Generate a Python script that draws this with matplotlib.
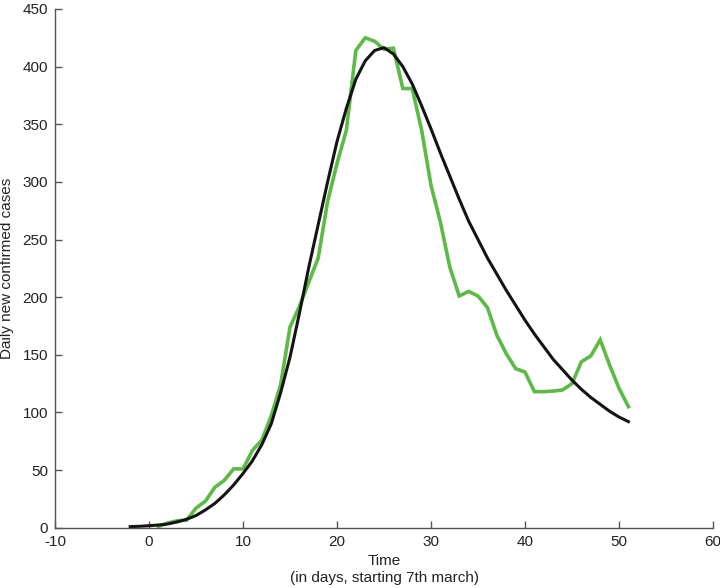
import numpy as np
import matplotlib.pyplot as plt

plt.rcParams['font.family'] = ['Liberation Sans', 'DejaVu Sans']
plt.rcParams['axes.unicode_minus'] = False

# daily new confirmed cases (green)
days = list(range(1, 52))
cases = [1, 4, 6, 6.5, 17, 23, 35, 41, 51, 51,
         67, 76, 97, 124, 174, 192, 213, 234, 283, 316,
         345, 414, 425, 422, 415, 416, 381, 381, 345, 297,
         265, 226, 201, 205, 201, 191, 167, 151, 138, 135,
         118, 118, 118.5, 119.5, 125, 144, 149, 163, 141, 121,
         105]

# fitted curve (black)
fit_days = list(range(-2, 52))
fit_vals = [0.9, 1.2, 1.7, 2.3, 3.2, 5, 7.3, 10.5, 15.4, 21,
            28.4, 37, 47, 58, 72, 90, 117, 148, 186, 226,
            263, 300, 335, 364, 389, 405, 414, 416.5, 411, 400,
            385, 366, 346, 325, 305, 285, 266, 250, 234, 220,
            206, 193, 180, 168, 157, 146, 137, 128, 120, 113,
            107, 101, 96, 92]

fig = plt.figure(figsize=(7.2, 5.88), dpi=100)
ax = fig.add_axes([0.0764, 0.1026, 0.9139, 0.8821])

ax.plot(days, cases, color='#5cbb46', lw=2.6, solid_joinstyle='miter')
ax.plot(fit_days, fit_vals, color='#141414', lw=2.2)

ax.set_xlim(-10, 60)
ax.set_ylim(0, 450)
ax.set_xticks(range(-10, 61, 10))
ax.set_yticks(range(0, 451, 50))

for s in ['top', 'right']:
    ax.spines[s].set_visible(False)
for s in ['left', 'bottom']:
    ax.spines[s].set_color('#555555')
    ax.spines[s].set_linewidth(1.0)
ax.tick_params(direction='in', length=5, width=1, color='#555555',
               labelsize=11, labelcolor='#222222', pad=5)

ax.set_xlabel('Time\n(in days, starting 7th march)', fontsize=11, color='#222222',
              labelpad=4, linespacing=1.3)
ax.set_ylabel('Daily new confirmed cases', fontsize=11, color='#222222', labelpad=6)

fig.savefig('out.png', dpi=100)
